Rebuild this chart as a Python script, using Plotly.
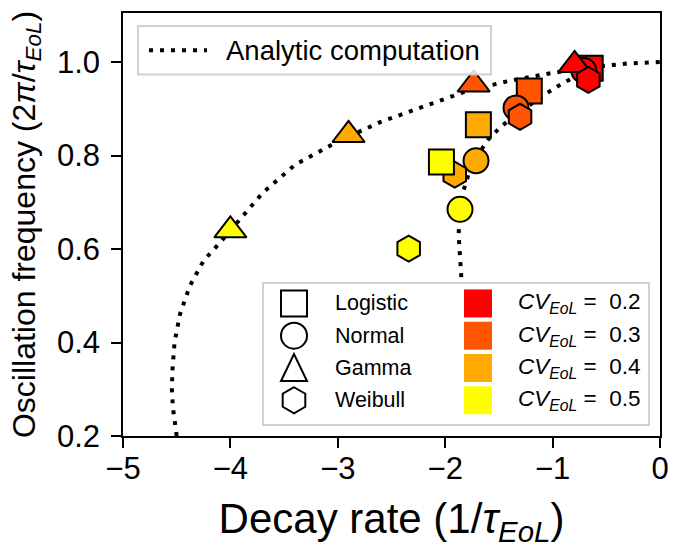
import plotly.graph_objects as go

# ---------------- data ----------------
cv_levels = [0.2, 0.3, 0.4, 0.5]
cv_colors = ["#FF0000", "#FF5500", "#FFAA00", "#FFFF00"]

distributions = ["Logistic", "Normal", "Gamma", "Weibull"]
dist_symbols = ["square", "circle", "triangle-up", "hexagon"]
dist_sizes = [25, 25, 28, 26]

# decay rate (x) and oscillation frequency (y), ordered by CV 0.2 .. 0.5
logistic_x = [-0.65, -1.217, -1.691, -2.035]
logistic_y = [0.987, 0.938, 0.866, 0.786]
normal_x = [-0.71, -1.34, -1.713, -1.862]
normal_y = [0.982, 0.902, 0.789, 0.685]
gamma_x = [-0.795, -1.735, -2.90, -4.00]
gamma_y = [0.994, 0.952, 0.844, 0.640]
weibull_x = [-0.667, -1.303, -1.911, -2.34]
weibull_y = [0.962, 0.883, 0.759, 0.601]

# analytic computation (two branches)
outer_x = [-4.50, -4.535, -4.545, -4.54, -4.52, -4.47, -4.38, -4.25, -4.10, -4.00,
           -3.70, -3.40, -3.00, -2.60, -2.20, -1.80, -1.40, -1.00, -0.60, -0.30, 0.00]
outer_y = [0.20, 0.26, 0.30, 0.34, 0.40, 0.46, 0.52, 0.575, 0.613, 0.64,
           0.72, 0.78, 0.83, 0.872, 0.905, 0.938, 0.96, 0.977, 0.99, 0.997, 1.00]
inner_x = [-1.85, -1.865, -1.875, -1.865, -1.83, -1.78, -1.70, -1.60, -1.49, -1.35,
           -1.20, -1.05, -0.92, -0.80, -0.68]
inner_y = [0.54, 0.58, 0.63, 0.68, 0.725, 0.762, 0.80, 0.834, 0.860, 0.886,
           0.911, 0.934, 0.953, 0.968, 0.982]

x_ticks = [-5, -4, -3, -2, -1, 0]
y_ticks = [0.2, 0.4, 0.6, 0.8, 1.0]

# ---------------- layout geometry ----------------
W, H = 697, 548
ML, MR, MT, MB = 123, 37, 11, 111
PW, PH = W - ML - MR, H - MT - MB
FONT = "Liberation Sans, Arial, Helvetica, sans-serif"
DOT = "4px,7px"


def px(xpix):
    return (xpix - ML) / PW


def py(ypix):
    return (H - MB - ypix) / PH


fig = go.Figure()

# analytic curves
for cx, cy in [(outer_x, outer_y), (inner_x, inner_y)]:
    fig.add_trace(go.Scatter(
        x=cx, y=cy, mode="lines", name="Analytic computation",
        line=dict(color="black", width=4, dash=DOT),
        showlegend=False, hoverinfo="skip"))

series = [(logistic_x, logistic_y), (normal_x, normal_y),
          (gamma_x, gamma_y), (weibull_x, weibull_y)]

# simulated points: one trace per CV level, drawn in CV order
for ci, cv in enumerate(cv_levels):
    xs = [s[0][ci] for s in series]
    ys = [s[1][ci] for s in series]
    fig.add_trace(go.Scatter(
        x=xs, y=ys, mode="markers",
        name=f"CV = {cv}",
        text=distributions,
        marker=dict(symbol=dist_symbols, size=dist_sizes, color=cv_colors[ci],
                    opacity=1, line=dict(color="black", width=2)),
        showlegend=False))

shapes = []
annotations = []

# ---- legend 1 : analytic computation ----
shapes.append(dict(type="rect", xref="paper", yref="paper",
                   x0=px(138), x1=px(491), y0=py(73), y1=py(24),
                   line=dict(color="#d0d0d0", width=2),
                   fillcolor="rgba(255,255,255,0.85)", layer="above"))
shapes.append(dict(type="line", xref="paper", yref="paper",
                   x0=px(149), x1=px(207), y0=py(48.5), y1=py(48.5),
                   line=dict(color="black", width=4, dash=DOT), layer="above"))
annotations.append(dict(xref="paper", yref="paper", x=px(224), y=py(48.5),
                        xanchor="left", yanchor="middle", showarrow=False,
                        text="Analytic computation",
                        font=dict(family=FONT, size=27.5, color="black")))

# ---- legend 2 : distributions and CV colours ----
shapes.append(dict(type="rect", xref="paper", yref="paper",
                   x0=px(263), x1=px(649), y0=py(426), y1=py(283),
                   line=dict(color="#d0d0d0", width=2),
                   fillcolor="rgba(255,255,255,0.85)", layer="above"))

row_y = [303.5, 336, 368.5, 401]
sym_x = 294
s = 13
sym_paths = {
    "square": f"M{-s},{-s} L{s},{-s} L{s},{s} L{-s},{s} Z",
    "triangle-up": f"M0,{s+1} L{-s},{-s} L{s},{-s} Z",
    "hexagon": "M0,13 L11.3,6.5 L11.3,-6.5 L0,-13 L-11.3,-6.5 L-11.3,6.5 Z",
}
for di, name in enumerate(distributions):
    sym = dist_symbols[di]
    common = dict(xref="paper", yref="paper", xsizemode="pixel", ysizemode="pixel",
                  xanchor=px(sym_x), yanchor=py(row_y[di]),
                  line=dict(color="black", width=2), fillcolor="rgba(0,0,0,0)",
                  layer="above")
    if sym == "circle":
        shapes.append(dict(type="circle", x0=-s, x1=s, y0=-s, y1=s, **common))
    else:
        shapes.append(dict(type="path", path=sym_paths[sym], **common))
    annotations.append(dict(xref="paper", yref="paper", x=px(333), y=py(row_y[di]),
                            xanchor="left", yanchor="middle", showarrow=False,
                            text=name,
                            font=dict(family=FONT, size=21.5, color="black")))

for ci, cv in enumerate(cv_levels):
    shapes.append(dict(type="rect", xref="paper", yref="paper",
                       xsizemode="pixel", ysizemode="pixel",
                       xanchor=px(478), yanchor=py(row_y[ci]),
                       x0=-14, x1=14, y0=-14, y1=14,
                       line=dict(width=0), fillcolor=cv_colors[ci], layer="above"))
    annotations.append(dict(xref="paper", yref="paper", x=px(516), y=py(row_y[ci]),
                            xanchor="left", yanchor="middle", showarrow=False,
                            text=f"<i>CV</i><sub><i>EoL</i></sub> =  {cv}",
                            font=dict(family=FONT, size=22.5, color="black")))

fig.update_layout(
    width=W, height=H,
    margin=dict(l=ML, r=MR, t=MT, b=MB, pad=0),
    paper_bgcolor="white", plot_bgcolor="white",
    font=dict(family=FONT, color="black"),
    shapes=shapes, annotations=annotations,
    showlegend=False,
)

fig.update_xaxes(
    range=[-5, 0], tickvals=x_ticks,
    ticktext=[f"\u2212{abs(v)}" if v < 0 else str(v) for v in x_ticks],
    ticks="outside", ticklen=10, tickwidth=1.6, tickcolor="black",
    showline=True, linecolor="black", linewidth=1.6, mirror=True,
    showgrid=False, zeroline=False,
    tickfont=dict(family=FONT, size=31, color="black"),
    ticklabelstandoff=-6,
    title=dict(text="Decay rate (1/<i>τ</i><sub><i>EoL</i></sub>)",
               font=dict(family=FONT, size=42, color="black"), standoff=22),
)
fig.update_yaxes(
    range=[0.2, 1.105], tickvals=y_ticks, ticktext=[f"{v:.1f}" for v in y_ticks],
    ticks="outside", ticklen=10, tickwidth=1.6, tickcolor="black",
    showline=True, linecolor="black", linewidth=1.6, mirror=True,
    showgrid=False, zeroline=False,
    tickfont=dict(family=FONT, size=31, color="black"),
    ticklabelstandoff=5,
    title=dict(text="Oscillation frequency (2<i>π</i>/<i>τ</i><sub><i>EoL</i></sub>)",
               font=dict(family=FONT, size=32, color="black"), standoff=12),
)

# the page's default body margin would shift the figure; remove it
fig.write_html("out.html", config={"displayModeBar": False},
               post_script="document.body.style.margin='0px';")
